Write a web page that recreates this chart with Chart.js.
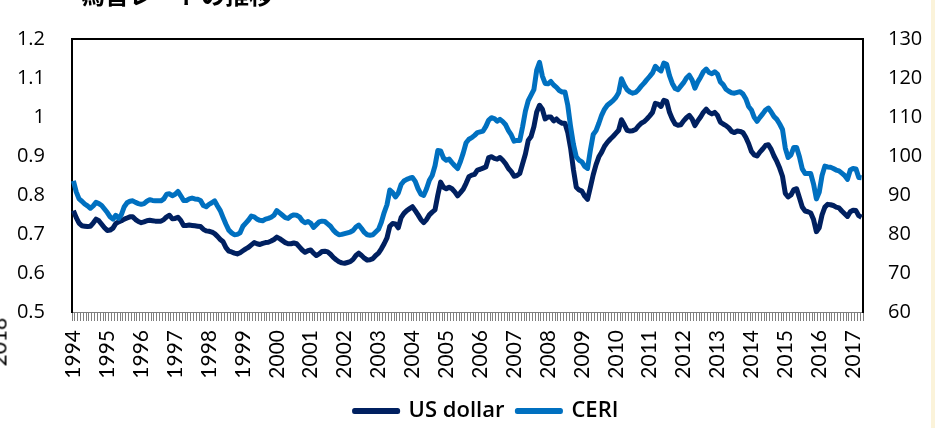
<!DOCTYPE html>
<html lang="ja">
<head>
<meta charset="utf-8">
<title>為替レートの推移</title>
<script src="https://cdn.jsdelivr.net/npm/chart.js@4.4.1/dist/chart.umd.min.js"></script>
<style>
  html, body { margin: 0; padding: 0; background: #fff; }
  #wrap { position: relative; width: 935px; height: 428px; overflow: hidden; }
  #rateChart { position: absolute; left: 0; top: 0; }
  .cut-title { position: absolute; left: 81px; top: -18px; font: bold 24px/24px "Noto Sans CJK JP", sans-serif; color: #000; white-space: nowrap; }
  .cut-year { position: absolute; left: -24px; top: 333px; width: 44px; height: 23px; font: 21px/23px "Liberation Sans Narrow", Lato, sans-serif; color: #000; transform: rotate(-90deg); }
  .edge { position: absolute; right: 0; top: 0; width: 4px; height: 428px; background: #fbf3da; }
</style>
</head>
<body>
<div id="wrap">
  <canvas id="rateChart" width="935" height="428"></canvas>
  <div class="cut-title">為替レートの推移</div>
  <div class="cut-year">2018</div>
  <div class="edge"></div>
</div>
<script>
// ============================================================
// データ（1994年1月〜2017年4月、月次）
// ============================================================

const years = ['1994', '1995', '1996', '1997', '1998', '1999', '2000', '2001',
  '2002', '2003', '2004', '2005', '2006', '2007', '2008', '2009', '2010', '2011',
  '2012', '2013', '2014', '2015', '2016', '2017'];

// 左軸
const usDollar = [
  0.760, 0.742, 0.728, 0.721, 0.720, 0.719, 0.720, 0.728, 0.738, 0.734, 0.725, 0.716, // 1994
  0.709, 0.710, 0.715, 0.727, 0.731, 0.734, 0.738, 0.741, 0.744, 0.744, 0.737, 0.732, // 1995
  0.729, 0.731, 0.734, 0.735, 0.734, 0.733, 0.733, 0.733, 0.737, 0.744, 0.748, 0.739, // 1996
  0.740, 0.743, 0.735, 0.722, 0.722, 0.723, 0.722, 0.721, 0.720, 0.719, 0.712, 0.708, // 1997
  0.707, 0.705, 0.701, 0.694, 0.686, 0.680, 0.665, 0.656, 0.654, 0.651, 0.649, 0.652, // 1998
  0.657, 0.662, 0.666, 0.672, 0.678, 0.675, 0.673, 0.676, 0.678, 0.679, 0.682, 0.686, // 1999
  0.692, 0.688, 0.683, 0.678, 0.675, 0.675, 0.677, 0.675, 0.667, 0.659, 0.653, 0.657, // 2000
  0.659, 0.651, 0.645, 0.649, 0.655, 0.656, 0.654, 0.648, 0.640, 0.634, 0.629, 0.626, // 2001
  0.625, 0.627, 0.629, 0.635, 0.645, 0.651, 0.645, 0.638, 0.633, 0.634, 0.637, 0.645, // 2002
  0.651, 0.662, 0.675, 0.690, 0.720, 0.727, 0.726, 0.716, 0.742, 0.753, 0.760, 0.765, // 2003
  0.770, 0.760, 0.749, 0.737, 0.729, 0.737, 0.749, 0.756, 0.762, 0.800, 0.833, 0.820, // 2004
  0.816, 0.820, 0.816, 0.808, 0.798, 0.806, 0.815, 0.830, 0.847, 0.851, 0.853, 0.864, // 2005
  0.866, 0.869, 0.872, 0.896, 0.898, 0.894, 0.892, 0.896, 0.889, 0.880, 0.868, 0.860, // 2006
  0.848, 0.850, 0.855, 0.880, 0.905, 0.940, 0.950, 0.975, 1.013, 1.030, 1.020, 0.995, // 2007
  1.000, 1.000, 0.990, 0.995, 0.988, 0.984, 0.984, 0.960, 0.920, 0.865, 0.820, 0.813, // 2008
  0.810, 0.797, 0.789, 0.820, 0.852, 0.878, 0.898, 0.910, 0.925, 0.935, 0.943, 0.950, // 2009
  0.958, 0.966, 0.993, 0.980, 0.966, 0.964, 0.965, 0.968, 0.977, 0.984, 0.988, 0.995, // 2010
  1.003, 1.012, 1.035, 1.033, 1.027, 1.043, 1.040, 1.012, 0.995, 0.982, 0.979, 0.980, // 2011
  0.990, 0.998, 1.004, 0.995, 0.978, 0.990, 1.000, 1.012, 1.020, 1.012, 1.008, 1.012, // 2012
  1.004, 0.987, 0.982, 0.978, 0.972, 0.963, 0.960, 0.964, 0.963, 0.960, 0.948, 0.932, // 2013
  0.912, 0.903, 0.900, 0.910, 0.918, 0.927, 0.929, 0.917, 0.900, 0.886, 0.869, 0.848, // 2014
  0.804, 0.795, 0.800, 0.814, 0.816, 0.793, 0.769, 0.759, 0.757, 0.754, 0.737, 0.706, // 2015
  0.716, 0.749, 0.769, 0.776, 0.775, 0.773, 0.769, 0.767, 0.759, 0.752, 0.745, 0.757, // 2016
  0.761, 0.760, 0.747, 0.743                                                          // 2017
];

// 右軸
const ceri = [
  93.6, 90.8, 89.0, 88.4, 87.7, 87.2, 86.6, 87.2, 88.1, 87.8, 87.3, 86.4,   // 1994
  85.5, 84.4, 83.8, 84.8, 84.0, 85.0, 87.0, 88.0, 88.4, 88.5, 88.1, 87.8,   // 1995
  87.6, 87.8, 88.4, 88.8, 88.6, 88.5, 88.5, 88.5, 89.0, 90.2, 90.3, 89.8,   // 1996
  90.2, 90.9, 89.8, 88.6, 88.6, 89.0, 89.2, 89.0, 88.9, 88.6, 87.3, 87.0,   // 1997
  87.6, 88.0, 88.5, 87.2, 86.0, 84.2, 82.5, 81.0, 80.3, 79.8, 79.9, 80.3,   // 1998
  82.0, 82.8, 83.6, 84.6, 84.4, 83.8, 83.5, 83.4, 83.8, 84.0, 84.3, 84.8,   // 1999
  86.0, 85.4, 84.8, 84.2, 84.0, 84.6, 84.9, 84.8, 84.4, 83.4, 82.9, 83.2,   // 2000
  82.8, 81.7, 82.4, 83.1, 83.3, 83.2, 82.6, 82.0, 81.0, 80.3, 79.8, 79.9,   // 2001
  80.1, 80.3, 80.5, 80.9, 81.8, 82.3, 81.4, 80.4, 79.8, 79.7, 79.8, 80.5,   // 2002
  81.2, 83.0, 85.5, 87.5, 91.3, 90.6, 89.5, 90.5, 92.7, 93.6, 94.0, 94.3,   // 2003
  94.5, 93.5, 91.6, 90.2, 89.9, 91.6, 93.8, 95.0, 97.5, 101.4, 101.3, 99.5, // 2004
  98.9, 99.2, 98.3, 97.5, 96.8, 98.6, 100.8, 103.4, 104.3, 104.7, 105.3, 106.0, // 2005
  106.2, 106.4, 107.6, 109.2, 109.8, 109.6, 108.9, 109.4, 108.8, 108.0, 106.5, 105.4, // 2006
  103.8, 104.0, 104.0, 107.5, 111.5, 114.2, 115.6, 117.0, 122.0, 124.0, 120.5, 118.6, // 2007
  118.5, 119.1, 118.2, 117.6, 116.8, 116.4, 116.4, 113.0, 107.5, 103.0, 99.8, 98.9,   // 2008
  98.5, 97.3, 96.8, 101.5, 105.5, 106.5, 108.4, 110.5, 112.0, 113.0, 113.6, 114.2,    // 2009
  115.0, 116.2, 119.8, 118.2, 117.0, 116.4, 116.1, 116.3, 117.0, 117.9, 118.7, 119.6, // 2010
  120.4, 121.3, 123.0, 122.3, 121.8, 123.8, 123.5, 120.6, 118.6, 117.3, 117.0, 117.9, // 2011
  118.8, 120.0, 120.7, 119.5, 117.4, 119.0, 120.2, 121.6, 122.3, 121.4, 121.1, 121.6, // 2012
  121.0, 119.0, 118.3, 117.1, 116.6, 116.2, 116.1, 116.3, 116.5, 115.9, 114.7, 112.7, // 2013
  111.8, 109.9, 108.9, 109.9, 110.8, 111.8, 112.3, 111.3, 110.1, 109.4, 108.2, 106.8, // 2014
  102.0, 99.6, 100.3, 102.2, 102.2, 99.8, 96.7, 95.5, 95.5, 95.5, 92.8, 89.0,         // 2015
  90.7, 95.0, 97.4, 97.2, 97.1, 96.8, 96.4, 96.2, 95.6, 95.0, 94.0, 96.4,             // 2016
  96.8, 96.7, 94.5, 94.4                                                              // 2017
];

// 月次カテゴリ（"1994/1" 形式）
const months = [];
years.forEach(y => {
  for (let m = 1; m <= 12; m++) months.push(y + '/' + m);
});
months.length = usDollar.length;

// ============================================================
// 描画
// ============================================================

const FONT_AXIS = { family: '"Open Sans", sans-serif', size: 20 };
const FONT_YEAR = { family: '"Liberation Sans Narrow", Lato, sans-serif', size: 21 };

// プロット領域の上辺（左右は軸の線で描く）
const frameTop = {
  id: 'frameTop',
  afterDatasetsDraw(chart) {
    const { ctx, chartArea } = chart;
    ctx.save();
    ctx.strokeStyle = '#000';
    ctx.lineWidth = 2;
    ctx.beginPath();
    ctx.moveTo(chartArea.left - 1, chartArea.top);
    ctx.lineTo(chartArea.right + 1, chartArea.top);
    ctx.stroke();
    ctx.restore();
  }
};

// 凡例を元の図と同じく少し右へ寄せる
const legendShift = {
  id: 'legendShift',
  afterLayout(chart) {
    if (chart.legend) chart.legend.left += 38;
  }
};

const ctx = document.getElementById('rateChart').getContext('2d');

new Chart(ctx, {
  type: 'line',
  data: {
    labels: months,
    datasets: [
      {
        label: 'US dollar',
        data: usDollar,
        borderColor: '#002060',
        backgroundColor: '#002060',
        borderWidth: 5,
        pointRadius: 0,
        borderJoinStyle: 'round',
        yAxisID: 'y',
        order: 1
      },
      {
        label: 'CERI',
        data: ceri,
        borderColor: '#0070C0',
        backgroundColor: '#0070C0',
        borderWidth: 5,
        pointRadius: 0,
        borderJoinStyle: 'round',
        yAxisID: 'y1',
        order: 0
      }
    ]
  },
  options: {
    responsive: false,
    animation: false,
    devicePixelRatio: 1,
    // 下側は負の余白で凡例を少し下げる
    layout: { padding: { top: 20, left: 0, right: 0, bottom: -4 } },
    scales: {
      x: {
        type: 'category',
        offset: true,
        grid: { offset: true, drawOnChartArea: false, drawTicks: true, tickLength: 9, color: '#7f7f7f' },
        border: { color: '#7f7f7f', width: 1 },
        ticks: {
          autoSkip: false,
          minRotation: 90,
          maxRotation: 90,
          padding: 9,
          color: '#000',
          font: FONT_YEAR,
          callback: (value, index) => (index % 12 === 0 ? years[index / 12] : '')
        },
        afterFit: scale => { scale.height = 75; }
      },
      y: {
        position: 'left',
        min: 0.5,
        max: 1.2,
        grid: { drawOnChartArea: false, drawTicks: false },
        border: { color: '#000', width: 2 },
        ticks: {
          stepSize: 0.1,
          padding: 27,
          color: '#000',
          font: FONT_AXIS,
          callback: value => String(Math.round(value * 10) / 10)
        },
        afterFit: scale => { scale.width = 72; }
      },
      y1: {
        position: 'right',
        min: 60,
        max: 130,
        grid: { drawOnChartArea: false, drawTicks: false },
        border: { color: '#000', width: 2 },
        ticks: {
          stepSize: 10,
          padding: 25,
          color: '#000',
          font: FONT_AXIS
        },
        afterFit: scale => { scale.width = 72; }
      }
    },
    plugins: {
      legend: {
        position: 'bottom',
        labels: {
          boxWidth: 43,
          boxHeight: 1,
          padding: 13,
          color: '#000',
          font: { family: '"Open Sans", sans-serif', size: 22, weight: '600' },
          sort: (a, b) => a.datasetIndex - b.datasetIndex
        }
      },
      tooltip: { enabled: false }
    }
  },
  plugins: [frameTop, legendShift]
});
</script>
</body>
</html>
